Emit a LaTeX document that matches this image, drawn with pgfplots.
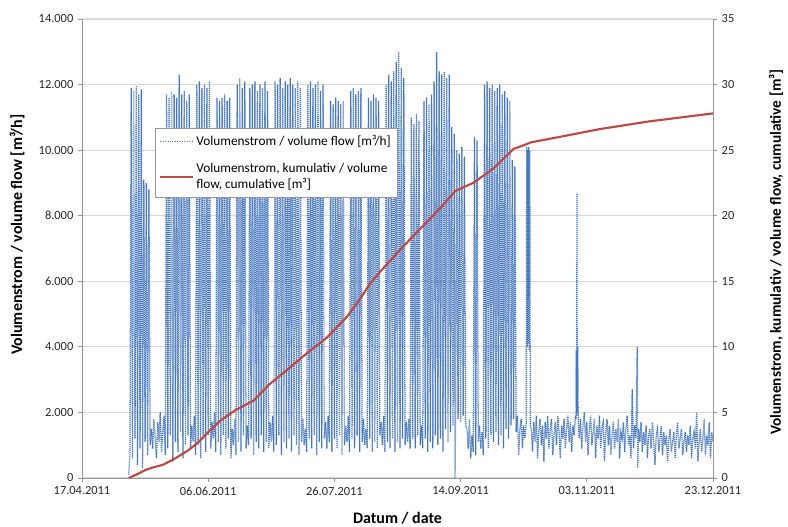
\documentclass[border=0pt]{standalone}
\usepackage{pgfplots}
\pgfplotsset{compat=1.18}
\usepackage{fontspec}
\setmainfont{Carlito}
\definecolor{flowblue}{RGB}{70,118,190}
\definecolor{cumred}{RGB}{192,72,68}
\definecolor{gridgray}{RGB}{217,217,217}
\definecolor{axisgray}{RGB}{150,150,150}
\begin{document}
\begin{tikzpicture}
\useasboundingbox (-61.5pt,-36.75pt) rectangle (529.5pt,358.5pt);
\begin{axis}[
  at={(0pt,0pt)}, anchor=south west,
  scale only axis, width=473.25pt, height=344.25pt,
  xmin=0, xmax=250, ymin=0, ymax=14000,
  axis x line*=bottom, axis y line*=left,
  axis line style={axisgray, line width=0.6pt},
  tick align=outside, major tick length=3pt,
  tick style={axisgray, line width=0.6pt},
  xtick={0,50,...,250},
  xticklabels={17.04.2011,06.06.2011,26.07.2011,14.09.2011,03.11.2011,23.12.2011},
  ytick={0,2000,...,14000},
  scaled y ticks=false,
  /pgf/number format/1000 sep={.},
  /pgf/number format/assume math mode=true,
  ymajorgrids, grid style={gridgray, line width=0.8pt},
  tick label style={font=\fontsize{9.3}{11}\selectfont, text=black!85},
  every axis y label/.style={at={(axis description cs:-0.103,0.53)}, rotate=90, anchor=center},
  every axis x label/.style={at={(axis description cs:0.5,-0.087)}, anchor=center},
  label style={font=\bfseries\fontsize{12}{14}\selectfont},
  ylabel={Volumenstrom / volume flow [m³/h]},
  xlabel={Datum / date},
]
\addplot[flowblue, dash pattern=on 0.9pt off 0.6pt, line width=0.95pt, mark=none] coordinates {
(18.5,100)(19,800)(19.5,11900)(20,600)(20.5,11800)(21,1200)(21.5,11950)(22,400)(22.5,11700)(23,900)(23.5,11850)(24,300)(24.5,9100)(25,1100)(25.5,9000)(26,700)(26.5,8800)(27,1000)
(27.5,1500)(28,900)(28.5,1800)(29,1200)(29.5,600)(30,1700)(30.5,1100)(31,2000)(31.5,800)(32,1400)(32.5,1900)(33,700)
(33.5,11700)(34,900)(34.5,11600)(35,1300)(35.5,11800)(36,500)(36.5,11700)(37,1100)(37.5,11600)(38,800)(38.5,12300)(39,1400)(39.5,11700)(40,600)(40.5,11800)(41,1000)(41.5,11500)(42,1300)(42.5,11700)(43,900)
(43.5,1600)(44,1100)(44.5,1900)(45,700)
(45.5,12000)(46,1000)(46.5,12100)(47,600)(47.5,11900)(48,1200)(48.5,12000)(49,800)(49.5,11900)(50,1300)(50.5,12100)(51,900)
(51.5,1700)(52,1200)(52.5,2000)(53,800)
(53.5,11600)(54,1100)(54.5,11500)(55,700)(55.5,11600)(56,1300)(56.5,11700)(57,900)(57.5,11500)(58,1200)(58.5,11600)(59,600)
(59.5,1500)(60,1000)(60.5,1800)(61,700)
(61.5,12000)(62,1100)(62.5,12200)(63,800)(63.5,11900)(64,1300)(64.5,12100)(65,900)
(65.5,1600)(66,1000)
(66.5,11900)(67,1200)(67.5,12000)(68,700)(68.5,12100)(69,1100)(69.5,11800)(70,900)(70.5,12000)(71,1300)(71.5,11900)(72,800)(72.5,12100)(73,1100)(73.5,11800)(74,900)
(74.5,1700)(75,1100)(75.5,1900)(76,800)
(76.5,12100)(77,1000)(77.5,12000)(78,1300)(78.5,12200)(79,700)(79.5,11900)(80,1100)(80.5,12100)(81,900)(81.5,12000)(82,1200)(82.5,12200)(83,800)(83.5,12000)(84,1300)(84.5,11900)(85,1000)(85.5,12100)(86,700)(86.5,11900)(87,1100)
(87.5,1800)(88,1000)(88.5,1500)(89,800)
(89.5,12000)(90,1200)(90.5,12100)(91,900)(91.5,11900)(92,1300)(92.5,12000)(93,700)(93.5,12100)(94,1100)(94.5,11800)(95,900)(95.5,12000)(96,1200)
(96.5,1700)(97,900)(97.5,1900)(98,1100)
(98.5,11500)(99,800)(99.5,11400)(100,1200)(100.5,11600)(101,900)(101.5,11500)(102,1300)(102.5,11400)(103,700)(103.5,11500)(104,1000)
(104.5,1600)(105,1100)(105.5,1900)(106,800)
(106.5,11800)(107,1200)(107.5,11900)(108,900)(108.5,11700)(109,1300)(109.5,11800)(110,800)(110.5,11900)(111,1100)
(111.5,1800)(112,1000)(112.5,1500)(113,900)
(113.5,11600)(114,1200)(114.5,11500)(115,800)(115.5,11700)(116,1100)(116.5,11600)(117,900)(117.5,11500)(118,1300)
(118.5,1700)(119,1000)(119.5,1900)(120,800)
(120.5,12000)(121,1100)(121.5,12300)(122,900)(122.5,12100)(123,1200)(123.5,12400)(124,800)(124.5,12700)(125,1100)(125.5,13000)(126,900)(126.5,12500)(127,1200)(127.5,12200)(128,1000)
(128.5,1700)(129,1100)(129.5,1800)(130,900)
(130.5,11000)(131,1200)(131.5,10800)(132,900)(132.5,11100)(133,1300)(133.5,10900)(134,1000)
(134.5,1600)(135,900)
(135.5,11500)(136,1200)(136.5,11600)(137,800)(137.5,11400)(138,1100)(138.5,11700)(139,900)(139.5,12100)(140,1300)(140.5,13000)(141,1000)
(141.5,12400)(142,1200)(142.5,12300)(143,800)(143.5,12400)(144,1500)(144.5,12200)(145,1100)(145.5,12300)(146,1400)
(146.5,10700)(147,1600)(147.5,10500)(147.8,0)(148,1700)
(148.5,10000)(149,1800)(149.5,9900)(150,1700)(150.5,10100)(151,1900)(151.5,9800)(152,1600)
(152.5,1500)(153,900)(153.5,1800)(154,600)(154.5,1300)(155,800)
(155.5,10400)(156,700)(156.5,10300)(157,1100)
(157.5,1600)(158,900)(158.5,1400)(159,700)
(159.5,12000)(160,1200)(160.5,12100)(161,900)(161.5,11900)(162,1300)(162.5,12000)(163,1100)(163.5,11800)(164,1400)(164.5,11900)(165,1000)(165.5,12000)(166,1300)(166.5,11700)(167,900)(167.5,11800)(168,1500)(168.5,11600)(169,1200)(169.5,11500)(170,1600)
(170.5,9700)(171,1800)(171.5,9500)(172,1400)
(172.5,1900)(173,700)(173.5,1500)(174,1800)(174.5,900)(175,1600)(175.5,1200)(176,1700)
(176.2,10100)(176.4,4000)(176.6,10000)(176.8,4100)(177,10100)(177.2,3900)(177.4,10000)(177.6,1600)
(178,1500)(178.5,800)(179,1700)(179.5,1100)(180,1900)(180.5,600)(181,1400)(181.5,1800)(182,1000)(182.5,1600)(183,500)(183.5,1700)(184,1200)(184.5,1900)(185,900)(185.5,1500)(186,1800)(186.5,700)(187,1300)(187.5,1700)(188,1000)(188.5,1900)(189,1400)(189.5,600)(190,1600)(190.5,1200)(191,1800)(191.5,900)(192,1500)(192.5,1900)(193,1100)(193.5,1700)(194,800)(194.5,1600)(195,1300)(195.5,1900)
(195.7,1800)(195.8,3900)(196,1900)(196.1,8700)(196.2,2000)(196.4,4000)(196.6,1700)
(197,1200)(197.5,1800)(198,900)(198.5,1600)(199,2000)(199.5,1100)(200,1700)(200.5,700)(201,1500)(201.5,1900)(202,1000)(202.5,1400)(203,1800)(203.5,600)(204,1600)(204.5,1200)(205,1900)(205.5,900)(206,1500)(206.5,1700)(207,500)(207.5,1400)(208,1800)(208.5,1000)(209,1600)(209.5,700)(210,1300)(210.5,1700)(211,900)(211.5,1500)(212,1100)(212.5,1800)(213,600)(213.5,1400)(214,1200)(214.5,1700)(215,800)(215.5,1500)(216,1900)(216.5,1000)(217,1300)(217.5,600)(218,2700)(218.5,900)(219,1600)(219.5,1200)(220,4000)(220.2,300)(220.5,1500)(221,1100)(221.5,1700)(222,800)(222.5,1400)(223,1000)(223.5,1600)(224,600)(224.5,1300)(225,1500)(225.5,900)(226,1700)(226.5,1100)(227,400)(227.5,1300)(228,1500)(228.5,800)(229,1200)(229.5,1600)(230,700)(230.5,1400)(231,1000)(231.5,1300)(232,500)(232.5,1200)(233,1500)(233.5,800)(234,1100)(234.5,1400)(235,600)(235.5,1300)(236,1700)(236.5,900)(237,1200)(237.5,1500)(238,700)(238.5,1100)(239,1400)(239.5,800)(240,1300)(240.5,1000)(241,1600)(241.5,600)(242,1200)(242.5,1400)(243,900)(243.5,2000)(244,500)(244.5,1100)(245,1500)(245.5,800)(246,1200)(246.5,1800)(247,700)(247.5,1300)(248,1000)(248.5,1700)(249,600)(249.5,1400)(250,1100)
};
\end{axis}
\begin{axis}[
  at={(0pt,0pt)}, anchor=south west,
  scale only axis, width=473.25pt, height=344.25pt,
  xmin=0, xmax=250, ymin=0, ymax=35,
  axis x line=none, axis y line*=right,
  axis line style={axisgray, line width=0.6pt},
  tick align=outside, major tick length=3pt,
  tick style={axisgray, line width=0.6pt},
  ytick={0,5,...,35},
  /pgf/number format/assume math mode=true,
  tick label style={font=\fontsize{9.3}{11}\selectfont, text=black!85},
  every axis y label/.style={at={(axis description cs:1.1,0.492)}, rotate=90, anchor=center},
  label style={font=\bfseries\fontsize{11.5}{13}\selectfont},
  ylabel={Volumenstrom, kumulativ / volume flow, cumulative [m³]},
  legend cell align=left,
  legend style={at={(axis description cs:0.1157,0.7625)}, anchor=north west,
    draw=axisgray, fill=white, font=\fontsize{10}{12}\selectfont,
    cells={align=left}, row sep=8pt, inner sep=3pt},
  legend image code/.code={\draw[#1] (0cm,0cm) -- (0.85cm,0cm);},
]
\addlegendimage{flowblue, densely dotted, line width=0.8pt}
\addlegendentry{Volumenstrom / volume flow [m³/h]}
\addplot[cumred, line width=1.6pt, mark=none] coordinates {
(18.5,0)(22,0.3)(25,0.6)(28,0.8)(32,1.0)(37,1.5)(42,2.1)(46,2.7)(50,3.5)(55,4.4)(61,5.2)(68,5.9)(74,7.1)(81,8.2)(89,9.5)(97,10.7)(105,12.3)(110,13.6)(114,14.8)(118,15.7)(126,17.4)(134,19.0)(142,20.6)(148,21.9)(155,22.5)(163,23.6)(171,25.1)(174,25.3)(178,25.6)(189,26.0)(205,26.6)(225,27.2)(250,27.8)
};
\addlegendentry{Volumenstrom, kumulativ / volume\\flow, cumulative [m³]}
\node[rotate=90, anchor=center, font=\fontsize{6.5}{8}\selectfont, text=black!85] at (axis description cs:1.062,0.965) {Millionen / million};
\end{axis}
\end{tikzpicture}
\end{document}
